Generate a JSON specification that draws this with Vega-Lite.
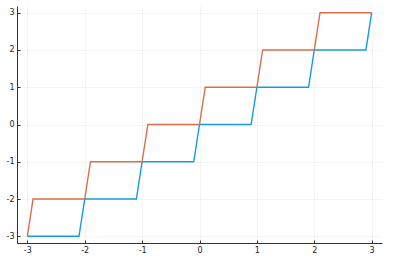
{
  "$schema": "https://vega.github.io/schema/vega-lite/v6.json",
  "width": 365,
  "height": 237,
  "autosize": {"type": "none"},
  "padding": {"left": 17, "top": 6, "right": 18, "bottom": 20},
  "background": "white",
  "config": {
    "view": {"stroke": null},
    "axis": {
      "labelFont": "DejaVu Sans",
      "labelFontSize": 8,
      "labelColor": "#222222",
      "domainColor": "#333333",
      "domainWidth": 1,
      "tickColor": "#333333",
      "tickSize": -3,
      "gridColor": "#000000",
      "gridOpacity": 0.08,
      "gridWidth": 0.5,
      "title": null
    }
  },
  "data": {
    "values": [
      {"s": "floor", "x": -3, "y": -3},
      {"s": "floor", "x": -2.1, "y": -3},
      {"s": "floor", "x": -2, "y": -2},
      {"s": "floor", "x": -1.1, "y": -2},
      {"s": "floor", "x": -1, "y": -1},
      {"s": "floor", "x": -0.1, "y": -1},
      {"s": "floor", "x": 0, "y": 0},
      {"s": "floor", "x": 0.9, "y": 0},
      {"s": "floor", "x": 1, "y": 1},
      {"s": "floor", "x": 1.9, "y": 1},
      {"s": "floor", "x": 2, "y": 2},
      {"s": "floor", "x": 2.9, "y": 2},
      {"s": "floor", "x": 3, "y": 3},
      {"s": "ceil", "x": -3, "y": -3},
      {"s": "ceil", "x": -2.9, "y": -2},
      {"s": "ceil", "x": -2, "y": -2},
      {"s": "ceil", "x": -1.9, "y": -1},
      {"s": "ceil", "x": -1, "y": -1},
      {"s": "ceil", "x": -0.9, "y": 0},
      {"s": "ceil", "x": 0, "y": 0},
      {"s": "ceil", "x": 0.1, "y": 1},
      {"s": "ceil", "x": 1, "y": 1},
      {"s": "ceil", "x": 1.1, "y": 2},
      {"s": "ceil", "x": 2, "y": 2},
      {"s": "ceil", "x": 2.1, "y": 3},
      {"s": "ceil", "x": 3, "y": 3}
    ]
  },
  "mark": {"type": "line", "strokeWidth": 1.4, "clip": true},
  "encoding": {
    "x": {
      "field": "x",
      "type": "quantitative",
      "scale": {"domain": [-3.18, 3.18], "nice": false, "zero": false},
      "axis": {"values": [-3, -2, -1, 0, 1, 2, 3], "labelPadding": 6, "labelExpr": "toString(datum.value)"}
    },
    "y": {
      "field": "y",
      "type": "quantitative",
      "scale": {"domain": [-3.18, 3.18], "nice": false, "zero": false},
      "axis": {"values": [-3, -2, -1, 0, 1, 2, 3], "labelPadding": 6, "labelExpr": "toString(datum.value)"}
    },
    "color": {
      "field": "s",
      "type": "nominal",
      "scale": {"domain": ["floor", "ceil"], "range": ["#1A9AE0", "#D9704B"]},
      "legend": null
    }
  }
}
